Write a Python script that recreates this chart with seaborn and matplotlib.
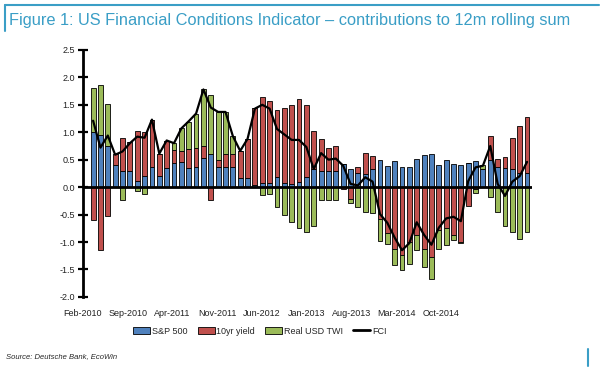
import numpy as np
import pandas as pd
import matplotlib
matplotlib.use("Agg")
import matplotlib.pyplot as plt
from matplotlib.lines import Line2D
from matplotlib.patches import Patch
import seaborn as sns

# contributions to the 12m rolling sum, monthly from Feb-2010
sp500 = [1.00, 0.95, 0.75, 0.41, 0.30, 0.29, 0.11, 0.21, 0.36, 0.21,
         0.34, 0.44, 0.45, 0.34, 0.37, 0.53, 0.60, 0.37, 0.36, 0.36,
         0.16, 0.16, 0.04, 0.07, 0.08, 0.18, 0.08, 0.05, 0.10, 0.19,
         0.33, 0.30, 0.29, 0.30, 0.42, 0.33, 0.25, 0.24, 0.33, 0.50,
         0.38, 0.47, 0.36, 0.36, 0.52, 0.58, 0.61, 0.41, 0.49, 0.42,
         0.40, 0.44, 0.47, 0.33, 0.49, 0.36, 0.34, 0.33, 0.26, 0.25]
yield10 = [-0.60, -1.15, -0.53, 0.19, 0.60, 0.54, 0.92, 0.80, 0.87, 0.40,
           0.50, 0.23, 0.21, 0.35, 0.35, 0.22, -0.23, 0.13, 0.25, 0.25,
           0.49, 0.72, 1.41, 1.58, 1.49, 1.23, 1.37, 1.44, 1.50, 1.31,
           0.70, 0.58, 0.43, 0.45, -0.04, -0.21, 0.11, 0.39, 0.23, -0.58,
           -0.84, -1.12, -1.23, -1.00, -0.87, -1.13, -1.28, -0.78, -0.74, -0.87,
           -1.00, -0.34, -0.03, 0.00, 0.45, 0.15, 0.21, 0.57, 0.86, 1.03]
usd_twi = [0.80, 0.91, 0.76, 0.00, -0.24, 0.00, -0.07, -0.12, 0.00, 0.00,
           0.00, 0.13, 0.42, 0.50, 0.62, 1.03, 1.08, 0.87, 0.76, 0.33,
           0.00, 0.00, 0.00, -0.15, -0.13, -0.36, -0.50, -0.64, -0.75, -0.82,
           -0.71, -0.23, -0.23, -0.23, 0.00, -0.08, -0.37, -0.45, -0.48, -0.41,
           -0.19, -0.29, -0.28, -0.40, -0.28, -0.33, -0.40, -0.35, -0.31, -0.09,
           -0.02, 0.00, -0.08, 0.07, -0.18, -0.46, -0.71, -0.82, -0.95, -0.82]
fci = [1.21, 0.72, 0.94, 0.59, 0.65, 0.80, 0.92, 0.90, 1.23, 0.61,
       0.85, 0.80, 1.07, 1.20, 1.34, 1.78, 1.45, 1.37, 1.37, 0.93,
       0.66, 0.88, 1.43, 1.50, 1.43, 1.06, 0.96, 0.86, 0.86, 0.73,
       0.33, 0.62, 0.50, 0.52, 0.39, 0.06, 0.03, 0.18, 0.10, -0.49,
       -0.65, -0.92, -1.15, -1.02, -0.64, -0.87, -1.05, -0.74, -0.57, -0.54,
       -0.62, 0.11, 0.36, 0.39, 0.75, 0.06, -0.16, 0.10, 0.20, 0.46]
tick_labels = ['Feb-2010', 'Sep-2010', 'Apr-2011', 'Nov-2011', 'Jun-2012',
               'Jan-2013', 'Aug-2013', 'Mar-2014', 'Oct-2014']

series_names = ['S&P 500', '10yr yield', 'Real USD TWI']
series_colors = ['#4f81bd', '#c0504d', '#9bbb59']
accent = '#3a9ec6'

sns.set_style('white')
plt.rcParams['font.family'] = ['Liberation Sans', 'DejaVu Sans']

fig = plt.figure(figsize=(6, 3.67), dpi=100)
ax = fig.add_axes([0.138, 0.191, 0.749, 0.673])

n = len(fci)
x = np.arange(n)
pos_base = np.zeros(n)
neg_base = np.zeros(n)
for vals, col, lab in zip([sp500, yield10, usd_twi], series_colors, series_names):
    vals = np.array(vals)
    bottom = np.where(vals >= 0, pos_base, neg_base)
    ax.bar(x, vals, bottom=bottom, width=0.66, color=col,
           edgecolor='black', linewidth=0.6, zorder=2)
    pos_base = pos_base + np.clip(vals, 0, None)
    neg_base = neg_base + np.clip(vals, None, 0)

ax.axhline(0, color='black', lw=2, zorder=4)

df = pd.DataFrame({'idx': x, 'FCI': fci})
sns.lineplot(data=df, x='idx', y='FCI', color='black', lw=1.6,
             ax=ax, legend=False, zorder=5)

ax.set_xlim(-0.6, 59.7)
ax.set_ylim(-2.0, 2.5)
ax.set_yticks(np.arange(-2.0, 2.51, 0.5))
ax.set_yticklabels([f'{v:.1f}' for v in np.arange(-2.0, 2.51, 0.5)])
ax.set_xticks(np.linspace(-1.4, 47.3, len(tick_labels)))
ax.set_xticklabels(tick_labels)
ax.set_xlabel('')
ax.set_ylabel('')
for s in ['top', 'right', 'bottom']:
    ax.spines[s].set_visible(False)
ax.spines['left'].set_linewidth(2)
ax.spines['left'].set_color('black')
ax.tick_params(axis='y', direction='inout', length=7, width=1.6,
               labelsize=6.5, pad=2, colors='black', labelcolor='#222222', left=True)
ax.tick_params(axis='x', length=0, labelsize=6.5, pad=9, labelcolor='#222222')

handles = [Patch(facecolor=c, edgecolor='black', linewidth=0.6) for c in series_colors]
handles.append(Line2D([], [], color='black', lw=2))
fig.legend(handles, series_names + ['FCI'], loc='center',
           bbox_to_anchor=(0.433, 0.098), ncol=4, frameon=False,
           fontsize=6.5, handlelength=1.9, handleheight=0.7,
           columnspacing=1.1, handletextpad=0.2)

fig.text(0.015, 1 - 20 / 367,
         'Figure 1: US Financial Conditions Indicator \u2013 contributions to 12m rolling sum',
         color=accent, fontsize=11.8, va='center', ha='left')
fig.add_artist(Line2D([0.008, 0.998], [1 - 5 / 367, 1 - 5 / 367], color=accent, lw=1.5))
fig.add_artist(Line2D([0.008, 0.008], [1 - 5 / 367, 1 - 31 / 367], color=accent, lw=1.5))
fig.add_artist(Line2D([0.98, 0.98], [1 - 349 / 367, 1 - 366 / 367], color=accent, lw=1.5))
fig.text(0.01, 1 - 357 / 367, 'Source: Deutsche Bank, EcoWin',
         fontsize=5.5, style='italic', va='center', ha='left')

fig.savefig('out.png', dpi=100)
